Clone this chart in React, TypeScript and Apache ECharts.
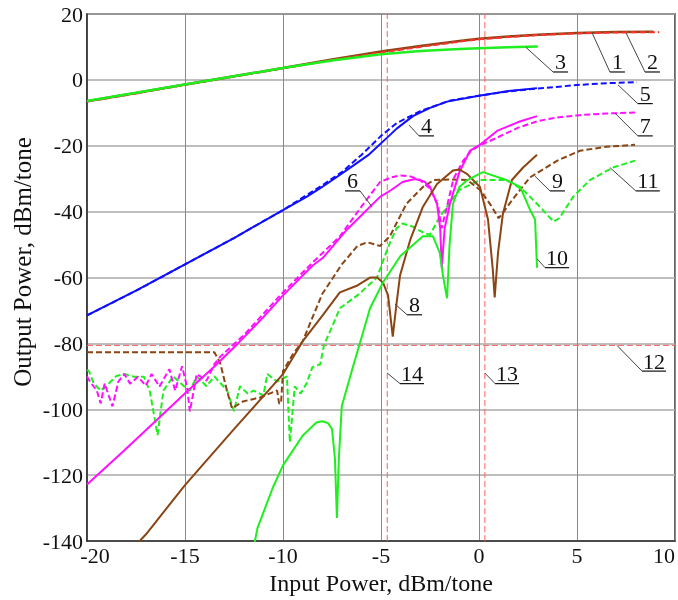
import React, { useEffect, useRef } from "react";
import * as echarts from "echarts";

// ---- Data (Input power dBm/tone, Output power dBm/tone) ----
const xTicks = [-20, -15, -10, -5, 0, 5, 10];
const yTicks = [-140, -120, -100, -80, -60, -40, -20, 0, 20];

const curve1: [number, number][] = [[-20,-6.5],[-17.5,-4],[-15,-1.4],[-12.5,1.1],[-10,3.6],[-7.5,6.2],[-5,8.6],[-3,10.3],[-1,11.8],[0,12.5],[1.5,13.2],[3,13.7],[5,14.2],[7,14.5],[8.9,14.6]];
const curve2: [number, number][] = [[-20,-6.6],[-17.5,-4.1],[-15,-1.5],[-12.5,1.0],[-10,3.5],[-7.5,6.0],[-5,8.3],[-3,10.0],[-1,11.6],[0,12.3],[1.5,13.0],[3,13.6],[5,14.1],[7,14.4],[9.2,14.5]];
const curve3: [number, number][] = [[-20,-6.4],[-17.5,-3.9],[-15,-1.4],[-12.5,1.1],[-10,3.6],[-7.5,5.9],[-5,7.8],[-3,8.8],[-1,9.4],[0,9.6],[1.5,9.9],[3,10.1]];
const curve4: [number, number][] = [[-20,-71.5],[-17.5,-64],[-15,-56],[-12.5,-48],[-10,-39.5],[-8.8,-35.5],[-8,-32.5],[-6.6,-26.8],[-5.6,-22.6],[-4.7,-17.6],[-4.2,-14.8],[-3.37,-11],[-2.5,-8.5],[-1.63,-6.6],[0,-4.8],[1.5,-3.4],[2.96,-2.5]];
const curve5: [number, number][] = [[-20,-71.5],[-17.5,-64],[-15,-56],[-12.5,-48],[-10,-39.5],[-8,-32],[-7,-28],[-6,-22.8],[-5,-17],[-4.2,-13.1],[-3,-9.5],[-1.5,-6.3],[0,-4.8],[1.5,-3.5],[3,-2.6],[5.15,-1.5],[6.5,-1],[8.06,-0.7]];
const curve6: [number, number][] = [[-20,-122.8],[-18.2,-113],[-16.4,-103],[-14.9,-94.6],[-13.5,-87],[-12.35,-80.3],[-11,-72],[-10,-65.4],[-8.5,-56.4],[-7.96,-54],[-6.73,-45.4],[-5.56,-38.5],[-5.05,-35.5],[-4.5,-33.5],[-3.9,-31],[-3.27,-30.1],[-2.8,-30.8],[-2.5,-32.5],[-2.14,-37.6],[-1.98,-45],[-1.9,-57],[-1.75,-45],[-1.48,-37.6],[-1,-28],[-0.46,-21.5],[0.05,-19.7],[0.92,-15.5],[2,-12.8],[2.96,-11]];
const curve7: [number, number][] = [[-20,-90],[-19.85,-91.6],[-19.5,-94.3],[-19.3,-98.2],[-19.1,-92.2],[-18.7,-99.1],[-18.4,-91.6],[-18.1,-89.3],[-17.8,-92.2],[-17.4,-90.1],[-17,-92.8],[-16.7,-89.3],[-16.3,-93.1],[-15.8,-87.8],[-15.5,-94.3],[-15.15,-86.9],[-14.9,-93.1],[-14.75,-100.6],[-14.4,-89.3],[-13.9,-91.3],[-13.5,-86.3],[-13.2,-84],[-12,-77.5],[-10,-64.5],[-8.5,-55.5],[-7.1,-47.5],[-6,-38.5],[-5.05,-31],[-4.5,-29.6],[-4,-29],[-3.5,-29.3],[-3,-30.4],[-2.5,-33],[-2.1,-38],[-1.9,-45],[-1.7,-40],[-1.3,-30],[-0.8,-24.5],[-0.4,-21.5],[0,-20],[0.9,-17.6],[2,-14.5],[3,-12.5],[4,-11.4],[5.15,-10.7],[6.5,-10.2],[8.06,-9.9]];
const curve8: [number, number][] = [[-17.4,-140.5],[-17,-138],[-15,-123],[-12.5,-106],[-10,-89.3],[-9,-79.4],[-7.96,-71.3],[-7.1,-64.5],[-6.2,-62.4],[-5.56,-60],[-5.2,-60],[-4.9,-61.5],[-4.64,-65.4],[-4.4,-77.9],[-4.2,-67.5],[-4.03,-59.4],[-3.5,-48.4],[-2.86,-38.5],[-2.14,-31.6],[-1.33,-27.5],[-1,-27.2],[-0.6,-28.6],[0.05,-32.5],[0.46,-42.4],[0.7,-57.3],[0.8,-66],[0.97,-52.5],[1.22,-40.6],[1.68,-30.4],[2.25,-26.6],[2.96,-22.7]];
const curve9: [number, number][] = [[-20,-82.7],[-13.5,-82.7],[-13.2,-86],[-12.86,-94.3],[-12.6,-99.7],[-12.04,-97.6],[-11.17,-96.4],[-10.3,-94.3],[-10.2,-98.2],[-10.1,-98.2],[-10,-88.4],[-9.5,-83.3],[-9,-79.4],[-8,-65],[-7,-56],[-6.2,-50.4],[-5.7,-49.3],[-5.05,-50.4],[-4.55,-47.5],[-3.7,-37.6],[-2.86,-32.5],[-2.3,-30.4],[-1.5,-30.2],[-0.6,-30.4],[0.05,-33.4],[0.6,-38],[1.0,-42],[1.2,-40.5],[1.7,-36.4],[2.6,-29.6],[4,-24.5],[5.15,-21.5],[6.5,-20.3],[7.96,-19.7]];
const curve10: [number, number][] = [[-11.45,-140.5],[-11.3,-136],[-10.5,-123.5],[-10,-117],[-9,-108],[-8.3,-104],[-8,-103.6],[-7.7,-104.2],[-7.5,-106],[-7.35,-115],[-7.25,-133],[-7.15,-115],[-7.0,-99],[-6.5,-88.5],[-6.07,-79.8],[-5.56,-69.3],[-4.9,-61.5],[-4.0,-53.4],[-2.86,-47.5],[-2.35,-47.5],[-2.0,-52.5],[-1.84,-59.4],[-1.63,-66.3],[-1.5,-50],[-1.33,-37.6],[-1.0,-32.5],[-0.6,-30.4],[0.2,-28],[1.4,-30.4],[2.1,-32.5],[2.6,-39.4],[2.86,-42.4],[2.96,-57]];
const curve11: [number, number][] = [[-20,-88],[-19.9,-88.4],[-19.65,-92.2],[-19.3,-94.3],[-19,-92.8],[-18.5,-89.9],[-18.1,-89.3],[-17.6,-90.1],[-17.1,-90.1],[-16.8,-94.3],[-16.4,-107.8],[-16.1,-94.3],[-15.6,-90],[-15.05,-93],[-14.75,-94.3],[-14.4,-90],[-13.9,-93],[-13.5,-90],[-12.85,-94.3],[-12.5,-100.6],[-12.2,-93],[-11.8,-95.2],[-11.5,-94.3],[-11,-95.8],[-10.8,-89.3],[-10.3,-91.6],[-9.8,-90],[-9.65,-110],[-9.4,-93],[-9.1,-95.2],[-8.8,-92.2],[-8.5,-87.2],[-8.1,-86.3],[-7.9,-80.3],[-7.45,-74.3],[-7.1,-69.3],[-6.2,-65.4],[-5.2,-60],[-4.9,-55],[-4.55,-49.5],[-4.2,-45],[-3.9,-43.6],[-3.4,-44.5],[-2.8,-46.5],[-2.5,-47],[-2,-41.5],[-1,-33.4],[0.05,-30.4],[1.4,-30.4],[2.25,-33.4],[3.1,-38.5],[3.8,-43],[4.1,-42],[4.8,-35.5],[5.66,-30.4],[6.84,-26.6],[7.96,-24.5]];
const line12: [number, number][] = [[-20,-80.6],[10,-80.6]];
const line13: [number, number][] = [[0.3,-140],[0.3,20]];
const line14: [number, number][] = [[-4.68,-140],[-4.68,20]];

// ---- Numbered callouts: anchor on curve -> elbow at start of underline ----
const labelNames = ["1","2","3","4","5","6","7","8","9","10","11","12","13","14"];
const labelAnchorX = [5.77, 7.5, 2.4, -3.57, 7.09, -5.46, 6.94, -4.29, 2.86, 2.96, 6.68, 7.04, 0.3, -4.68];
const labelAnchorY = [14.3, 14.3, 9.85, -13.7, -1.5, -38.5, -10.1, -68, -29.25, -54.3, -26.6, -80.6, -89, -89];
const labelElbowX = [6.68, 8.47, 3.78, -3.06, 8.1, -6.07, 8.1, -3.67, 3.62, 3.37, 8.0, 8.32, 0.82, -4.03];
const labelElbowY = [2.4, 2.4, 2.4, -17, -7.2, -33.7, -17, -71.3, -33.7, -57, -33.7, -88.4, -92.2, -92.2];
const labelLeft = [false, false, false, false, false, true, false, false, false, false, false, false, false, false];

const xTitle = "Input Power, dBm/tone";
const yTitle = "Output Power, dBm/tone";

const BROWN = "#8b4513";
const RED = "#ff3030";
const GREEN = "#1fee1f";
const BLUE = "#1010ff";
const MAGENTA = "#ff10ff";
const SERIF = "'Liberation Serif', 'Times New Roman', serif";

function mk(data: [number, number][], color: string, dashed: boolean, width = 2, z = 2) {
  return {
    type: "line",
    data,
    showSymbol: false,
    symbol: "none",
    clip: true,
    z,
    lineStyle: { color, width, type: dashed ? [6, 3] : "solid" },
  };
}

export default function App() {
  const ref = useRef<HTMLDivElement>(null);
  useEffect(() => {
    if (!ref.current) return;
    const chart = echarts.init(ref.current, null, { renderer: "svg" });
    const option: any = {
      animation: false,
      grid: { left: 87, right: 3, top: 14, bottom: 50, show: true, borderColor: "#333", borderWidth: 1.5, backgroundColor: "transparent" },
      xAxis: {
        type: "value", min: xTicks[0], max: xTicks[xTicks.length - 1], interval: 5,
        name: xTitle, nameLocation: "middle", nameGap: 25,
        nameTextStyle: { fontFamily: SERIF, fontSize: 24, color: "#111" },
        axisLine: { show: true, onZero: false, lineStyle: { color: "#333", width: 1.5 } },
        axisTick: { show: false },
        axisLabel: {
          fontFamily: SERIF, fontSize: 22, color: "#111", margin: 3, alignMaxLabel: "right",
          formatter: (v: number) => (v === xTicks[0] ? `{first|${v}}` : `${v}`),
          rich: { first: { fontFamily: SERIF, fontSize: 22, color: "#111", padding: [0, 0, 0, 16] } },
        },
        splitLine: { show: true, lineStyle: { color: "#8a8a8a", width: 1 } },
      },
      yAxis: {
        type: "value", min: yTicks[0], max: yTicks[yTicks.length - 1], interval: 20,
        axisLine: { show: true, onZero: false, lineStyle: { color: "#333", width: 1.5 } },
        axisTick: { show: false },
        axisLabel: { fontFamily: SERIF, fontSize: 22, color: "#111", margin: 4 },
        splitLine: { show: true, lineStyle: { color: "#a8a8a8", width: 1.5 } },
      },
      series: [
        mk(line12, "#ff6060", true, 1, 1),
        mk(line13, "#ff6060", true, 1, 1),
        mk(line14, "#ff6060", true, 1, 1),
        mk(curve1, BROWN, false, 2.5),
        mk(curve2, RED, true, 2),
        mk(curve3, GREEN, false, 2.5),
        mk(curve11, GREEN, true, 2),
        mk(curve9, BROWN, true, 2),
        mk(curve7, MAGENTA, true, 2),
        mk(curve5, BLUE, true, 2),
        mk(curve4, BLUE, false, 2),
        mk(curve6, MAGENTA, false, 2),
        mk(curve8, BROWN, false, 2),
        mk(curve10, GREEN, false, 2),
      ],
    };
    chart.setOption(option);

    const graphics: any[] = [];
    labelNames.forEach((name, i) => {
      const a = chart.convertToPixel({ xAxisIndex: 0, yAxisIndex: 0 }, [labelAnchorX[i], labelAnchorY[i]]) as number[];
      const b = chart.convertToPixel({ xAxisIndex: 0, yAxisIndex: 0 }, [labelElbowX[i], labelElbowY[i]]) as number[];
      const w = name.length > 1 ? 24 : 15;
      const x0 = labelLeft[i] ? b[0] - w : b[0];
      graphics.push({ type: "line", z: 50, shape: { x1: a[0], y1: a[1], x2: b[0], y2: b[1] }, style: { stroke: "#444", lineWidth: 1 } });
      graphics.push({ type: "line", z: 50, shape: { x1: x0, y1: b[1], x2: x0 + w, y2: b[1] }, style: { stroke: "#111", lineWidth: 1.2 } });
      graphics.push({
        type: "text", z: 51, x: x0 + w / 2, y: b[1] + 1,
        style: { text: name, font: `22px ${SERIF}`, fill: "#111", align: "center", verticalAlign: "bottom" },
      });
    });
    graphics.push({
      type: "text", z: 51, x: 22, y: 262, rotation: Math.PI / 2,
      style: { text: yTitle, font: `25px ${SERIF}`, fill: "#111", align: "center", verticalAlign: "middle" },
    });
    chart.setOption({ graphic: graphics });

    return () => chart.dispose();
  }, []);
  return <div ref={ref} style={{ position: "fixed", left: 0, top: 0, width: 678, height: 600 }} />;
}
